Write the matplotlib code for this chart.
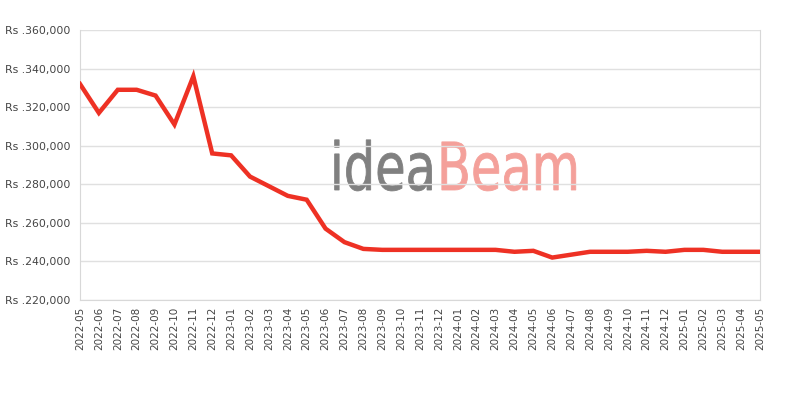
import matplotlib

matplotlib.use('Agg')
import matplotlib.pyplot as plt
from matplotlib.ticker import FuncFormatter
from matplotlib.textpath import TextPath
from matplotlib.patches import PathPatch
from matplotlib.font_manager import FontProperties
from matplotlib.transforms import Affine2D

# monthly prices
months = ['2022-05', '2022-06', '2022-07', '2022-08', '2022-09', '2022-10', '2022-11', '2022-12',
          '2023-01', '2023-02', '2023-03', '2023-04', '2023-05', '2023-06', '2023-07', '2023-08',
          '2023-09', '2023-10', '2023-11', '2023-12', '2024-01', '2024-02', '2024-03', '2024-04',
          '2024-05', '2024-06', '2024-07', '2024-08', '2024-09', '2024-10', '2024-11', '2024-12',
          '2025-01', '2025-02', '2025-03', '2025-04', '2025-05']
prices = [332000, 317000, 329000, 329000, 326000, 311000, 336000, 296000,
          295000, 284000, 279000, 274000, 272000, 257000, 250000, 246500,
          246000, 246000, 246000, 246000, 246000, 246000, 246000, 245000,
          245500, 242000, 243500, 245000, 245000, 245000, 245500, 245000,
          246000, 246000, 245000, 245000, 245000]
y_ticks = [220000, 240000, 260000, 280000, 300000, 320000, 340000, 360000]

W, H = 800, 400
fig = plt.figure(figsize=(8, 4), dpi=100)
ax = fig.add_axes([0.1, 0.25, 0.85, 0.675])
ax.set_zorder(1)  # draw axes (grid + line) over the watermark

x = list(range(len(months)))


# watermark text, squeezed horizontally (pixel units -> figure fraction)
def watermark(word, x0, colour):
    tp = TextPath((0, 0), word, size=66, prop=FontProperties(family='DejaVu Sans'))
    tr = Affine2D().scale(0.75, 1).translate(x0, H - 190).scale(1 / W, 1 / H) + fig.transFigure
    fig.add_artist(PathPatch(tp, transform=tr, facecolor=colour, edgecolor=colour, lw=0.6, zorder=0))


watermark('idea', 330, '#808080')
watermark('Beam', 437, '#F4A09A')

ax.plot(x, prices, color='#EE3124', linewidth=3.2, solid_joinstyle='miter', zorder=3)

ax.set_xlim(0, len(months) - 1)
ax.set_ylim(220000, 360000)
ax.set_xticks(x)
ax.set_xticklabels(months, rotation=90, fontsize=7.5, color='#444444')
ax.set_yticks(y_ticks)
ax.yaxis.set_major_formatter(FuncFormatter(lambda v, p: f'Rs .{int(v):,}'))
ax.tick_params(axis='y', labelsize=7.8, labelcolor='#444444', length=0, pad=7)
ax.tick_params(axis='x', length=0, pad=5)

ax.grid(axis='y', color='#e0e0e0', linewidth=1)
ax.set_axisbelow(True)
ax.patch.set_alpha(0)
for side in ['left', 'bottom', 'right']:
    ax.spines[side].set_color('#d8d8d8')
ax.spines['top'].set_visible(False)

plt.savefig('out.png', dpi=100)
